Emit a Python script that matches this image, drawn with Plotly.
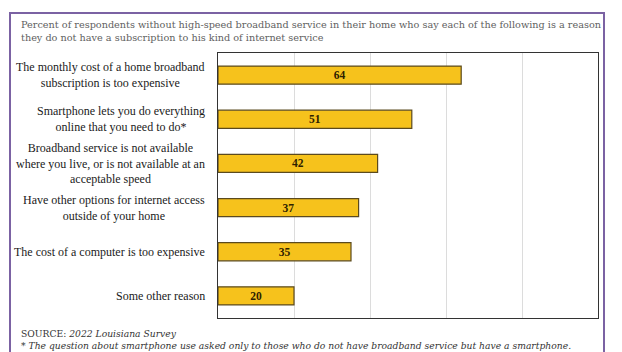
import plotly.graph_objects as go

categories = [
    "The monthly cost of a home broadband<br>subscription is too expensive",
    "Smartphone lets you do everything<br>online that you need to do*",
    "Broadband service is not available<br>where you live, or is not available at an<br>acceptable speed",
    "Have other options for internet access<br>outside of your home",
    "The cost of a computer is too expensive",
    "Some other reason",
]
values = [64, 51, 42, 37, 35, 20]
cat_ids = ["c1", "c2", "c3", "c4", "c5", "c6"]

title_lines = [
    "Percent of respondents without high-speed broadband service in their home who say each of the following is a reason",
    "they do not have a subscription to his kind of internet service",
]
source_line = "SOURCE: <i>2022 Louisiana Survey</i>"
note_line = "<i>* The question about smartphone use asked only to those who do not have broadband service but have a smartphone.</i>"

W, H = 622, 352
L, R, T, B = 218, 24, 53, 34
pw, ph = W - L - R, H - T - B


def px(xp):
    return (xp - L) / pw


def py(yp):
    return (H - B - yp) / ph


fig = go.Figure()
fig.add_trace(go.Bar(
    x=values, y=cat_ids, orientation="h",
    marker=dict(color="#F6C21C", line=dict(color="#5b4a1e", width=1.2)),
    text=[str(v) for v in values], textposition="inside", insidetextanchor="middle",
    textfont=dict(family="Liberation Serif", size=11.5, color="#2e2200", weight="bold"),
    width=0.41, hoverinfo="skip",
))

for cid, lab in zip(cat_ids, categories):
    fig.add_annotation(x=0, xref="paper", xanchor="right", xshift=-11,
                       y=cid, yref="y", yanchor="middle",
                       text=lab, showarrow=False, align="center",
                       font=dict(family="Liberation Serif", size=12, color="#1a1a1a"))

for i, line in enumerate(title_lines):
    fig.add_annotation(x=px(19), y=py(24 + 13 * i), xref="paper", yref="paper",
                       xanchor="left", yanchor="middle",
                       text=line, showarrow=False, align="left",
                       font=dict(family="DejaVu Serif", size=9.7, color="#606060"))

fig.add_annotation(x=px(19), y=py(333), xref="paper", yref="paper", xanchor="left", yanchor="middle",
                   text=source_line, showarrow=False, align="left",
                   font=dict(family="DejaVu Serif", size=9.2, color="#333333"))
fig.add_annotation(x=px(19), y=py(345.5), xref="paper", yref="paper", xanchor="left", yanchor="middle",
                   text=note_line, showarrow=False, align="left",
                   font=dict(family="DejaVu Serif", size=9.2, color="#333333"))

fig.add_shape(type="rect", xref="paper", yref="paper",
              x0=px(10), x1=px(604), y0=py(13), y1=py(362),
              line=dict(color="#7b62a3", width=2), layer="above")

fig.update_layout(
    width=W, height=H,
    margin=dict(l=L, r=R, t=T, b=B),
    paper_bgcolor="white", plot_bgcolor="white",
    showlegend=False,
    xaxis=dict(range=[0, 100], dtick=20, showticklabels=False, showgrid=True,
               gridcolor="#dcdcdc", gridwidth=1, zeroline=False,
               showline=True, linecolor="#333333", linewidth=1.2, mirror=True, ticks=""),
    yaxis=dict(categoryorder="array", categoryarray=cat_ids, autorange="reversed",
               showticklabels=False, showgrid=False, zeroline=False,
               showline=True, linecolor="#333333", linewidth=1.2, mirror=True, ticks=""),
    bargap=0.59,
)

fig.write_html("out.html")
